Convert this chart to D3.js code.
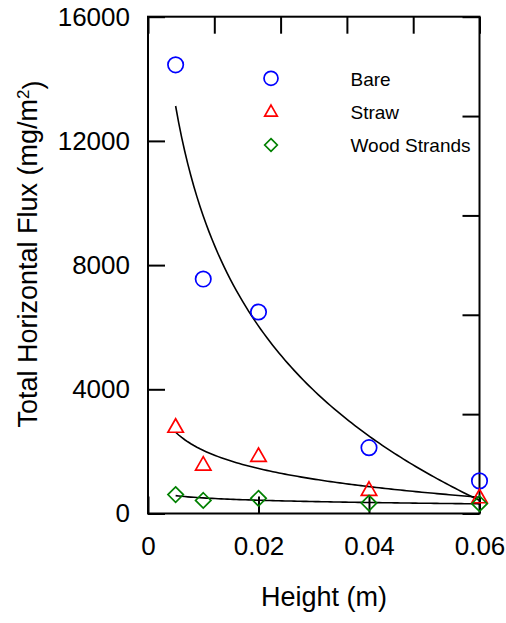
<!DOCTYPE html>
<html>
<head>
<meta charset="utf-8">
<script src="https://cdn.jsdelivr.net/npm/d3@7"></script>
<style>
  html, body { margin: 0; padding: 0; background: #fff; }
  svg { display: block; font-family: "Liberation Sans", Arial, Helvetica, sans-serif; }
</style>
</head>
<body>
<svg id="chart" width="506" height="623"></svg>
<script>
// ---- data ----
const heights = [0.005, 0.01, 0.02, 0.04, 0.06];
const bare = [14450, 7550, 6490, 2120, 1050];
const straw = [2790, 1570, 1850, 760, 520];
const wood = [610, 420, 490, 335, 315];
const seriesNames = ["Bare", "Straw", "Wood Strands"];
const seriesColors = ["#0000ff", "#ff0000", "#008000"];
const yTicks = [0, 4000, 8000, 12000, 16000];
const yMinorTicks = [0, 3200, 6400, 9600, 12800, 16000];
const xTicks = [0, 0.02, 0.04, 0.06];
const xTopTicks = [0, 0.012, 0.024, 0.036, 0.048, 0.06];

// ---- layout ----
const svg = d3.select("#chart");
const pL = 148, pR = 479.5, pT = 16.7, pB = 513.5;
const x = d3.scaleLinear().domain([0, 0.06]).range([pL, pR]);
const y = d3.scaleLinear().domain([0, 16000]).range([pB, pT]);
const tickLen = 17;

// axes
const axL = svg.append("g").attr("transform", `translate(${pL},0)`)
  .call(d3.axisLeft(y).tickValues(yTicks).tickSize(-tickLen).tickPadding(18).tickFormat(d3.format("d")));
const axR = svg.append("g").attr("transform", `translate(${pR},0)`)
  .call(d3.axisRight(y).tickValues(yMinorTicks).tickSize(-tickLen).tickFormat(""));
const axB = svg.append("g").attr("transform", `translate(0,${pB})`)
  .call(d3.axisBottom(x).tickValues(xTicks).tickSize(-tickLen).tickPadding(23).tickFormat(d => d === 0 ? "0" : d3.format(".2f")(d)));
const axT = svg.append("g").attr("transform", `translate(0,${pT})`)
  .call(d3.axisTop(x).tickValues(xTopTicks).tickSize(-tickLen).tickFormat(""));
[axL, axR, axB, axT].forEach(g => {
  g.select(".domain").remove();
  g.selectAll(".tick line").attr("stroke", "#000").attr("stroke-width", 2);
  g.selectAll(".tick text").attr("fill", "#000").style("font-size", "26px")
    .style("font-family", "'Liberation Sans', Arial, sans-serif");
});

// frame
svg.append("rect").attr("x", pL).attr("y", pT)
  .attr("width", pR - pL).attr("height", pB - pT)
  .attr("fill", "none").attr("stroke", "#000").attr("stroke-width", 2);

// axis titles
svg.append("text").attr("x", 324).attr("y", 606).attr("text-anchor", "middle")
  .style("font-size", "27px").attr("fill", "#000").text("Height (m)");
const yt = svg.append("text").attr("transform", "translate(37,254) rotate(-90)")
  .attr("text-anchor", "middle").style("font-size", "27px").attr("fill", "#000");
yt.append("tspan").text("Total Horizontal Flux (mg/m");
yt.append("tspan").attr("dy", "-0.45em").style("font-size", "17px").text("2");
yt.append("tspan").attr("dy", "0.45em").text(")");

// logarithmic least-squares fit curves computed from the data
function logFit(xs, ys) {
  const lx = xs.map(Math.log);
  const mx = d3.mean(lx), my = d3.mean(ys);
  const b = d3.sum(lx.map((v, i) => (v - mx) * (ys[i] - my))) / d3.sum(lx.map(v => (v - mx) * (v - mx)));
  const a = my - b * mx;
  return xv => a + b * Math.log(xv);
}
const allSeries = [bare, straw, wood];
const line = d3.line().x(d => x(d[0])).y(d => y(d[1]));
allSeries.forEach(vals => {
  const f = logFit(heights, vals);
  const pts = d3.range(0, 101).map(i => {
    const xv = heights[0] + (heights[heights.length - 1] - heights[0]) * i / 100;
    return [xv, f(xv)];
  });
  svg.append("path").datum(pts).attr("d", line)
    .attr("fill", "none").attr("stroke", "#000").attr("stroke-width", 1.6);
});

// markers
function marker(g, kind, cx, cy, color, s) {
  if (kind === 0) {
    g.append("circle").attr("cx", cx).attr("cy", cy).attr("r", s)
      .attr("fill", "none").attr("stroke", color).attr("stroke-width", 1.7);
  } else if (kind === 1) {
    const h = s * 1.75, w = s * 2.0;
    g.append("path").attr("d", `M${cx},${cy - h * 0.6}L${cx + w / 2},${cy + h * 0.4}L${cx - w / 2},${cy + h * 0.4}Z`)
      .attr("fill", "none").attr("stroke", color).attr("stroke-width", 1.7);
  } else {
    const r = s * 1.0;
    g.append("path").attr("d", `M${cx},${cy - r}L${cx + r},${cy}L${cx},${cy + r}L${cx - r},${cy}Z`)
      .attr("fill", "none").attr("stroke", color).attr("stroke-width", 1.7);
  }
}
const mg = svg.append("g");
allSeries.forEach((vals, si) => {
  vals.forEach((v, i) => marker(mg, si, x(heights[i]), y(v), seriesColors[si], 7.7));
});

// legend
const legY = [78.3, 111.7, 145];
const legBase = [86, 119.3, 152.3];
seriesNames.forEach((n, i) => {
  marker(svg, i, 271, legY[i], seriesColors[i], i === 0 ? 7 : 6.3);
  svg.append("text").attr("x", 350.5).attr("y", legBase[i])
    .style("font-size", "19px").attr("fill", "#000").text(n);
});
</script>
</body>
</html>
